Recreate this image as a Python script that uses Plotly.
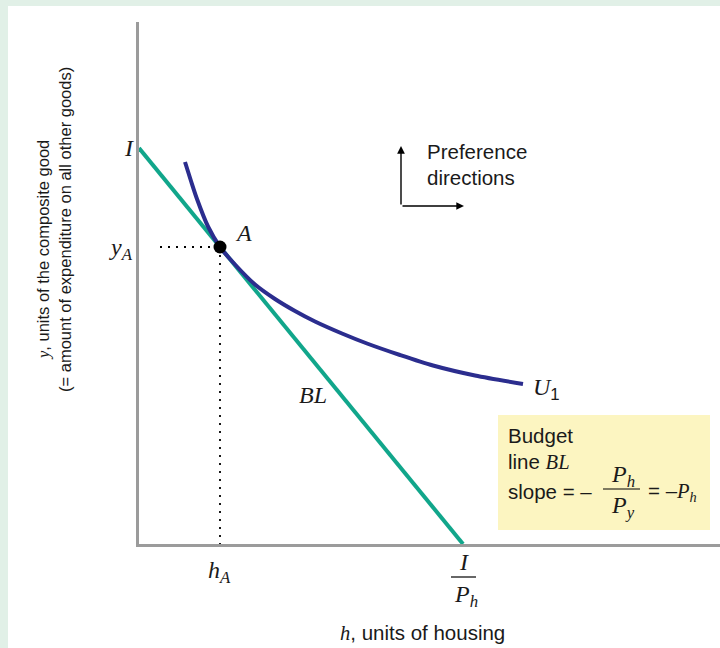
import plotly.graph_objects as go

# ---------------- data (chart units) ----------------
income_intercept_y = 39.6        # I  (budget line meets y axis)
income_intercept_x = 32.4        # I / P_h (budget line meets x axis)
point_A = (8.1, 29.7)            # optimal bundle (h_A, y_A)
curve_h = [4.6, 5.2, 5.8, 6.9, 8.1, 9.6, 11.6, 13.6, 15.6, 17.6, 20.3, 22.8, 26.1, 29.4, 33.6, 38.4]
curve_y = [38.2, 36.3, 34.5, 31.75, 29.7, 27.95, 25.95, 24.5, 23.3, 22.25, 21.05, 20.05, 18.9,
           17.85, 16.85, 16.0]
x_range = [0, 58.1]
y_range = [0, 52.2]

# ---------------- layout geometry (pixels) ----------------
W, H = 720, 648
L, R, T, B = 139, 0, 22, 104
PW, PH = W - L - R, H - T - B


def px(p):
    return (p - L) / PW


def py(p):
    return (H - B - p) / PH


TEAL = "#11a68b"
NAVY = "#2b2d8e"
GREEN_BG = "#e1f0e7"
YELLOW = "#fcf5c1"
SANS = "Liberation Sans, Arial, sans-serif"
SERIF = "Liberation Serif, Times New Roman, serif"

fig = go.Figure()

# dotted guides to A
fig.add_trace(go.Scatter(x=[2.1, point_A[0]], y=[point_A[1], point_A[1]], mode="lines",
                         line=dict(color="black", width=1.8, dash="2px,6px"), hoverinfo="skip"))
fig.add_trace(go.Scatter(x=[point_A[0], point_A[0]], y=[point_A[1], 0], mode="lines",
                         line=dict(color="black", width=1.8, dash="2px,6px"), hoverinfo="skip"))
# budget line
fig.add_trace(go.Scatter(x=[0, income_intercept_x], y=[income_intercept_y, 0], mode="lines",
                         line=dict(color=TEAL, width=4), hoverinfo="skip"))
# indifference curve
fig.add_trace(go.Scatter(x=curve_h, y=curve_y, mode="lines",
                         line=dict(color=NAVY, width=4, shape="spline", smoothing=0.8),
                         hoverinfo="skip"))
# point A
fig.add_trace(go.Scatter(x=[point_A[0]], y=[point_A[1]], mode="markers",
                         marker=dict(color="black", size=13), hoverinfo="skip"))

shapes = [
    # white panel
    dict(type="rect", xref="paper", yref="paper", x0=px(8), x1=px(W + 5), y0=py(H + 5), y1=py(6),
         fillcolor="white", line=dict(width=0), layer="below"),
    # yellow box
    dict(type="rect", xref="paper", yref="paper", x0=px(498), x1=px(710), y0=py(530), y1=py(415),
         fillcolor=YELLOW, line=dict(width=0), layer="below"),
    # fraction bar I/P_h
    dict(type="line", xref="paper", yref="paper", x0=px(451), x1=px(476), y0=py(577), y1=py(577),
         line=dict(color="black", width=1.2)),
    # fraction bar P_h/P_y
    dict(type="line", xref="paper", yref="paper", x0=px(603), x1=px(640), y0=py(489), y1=py(489),
         line=dict(color="black", width=1.2)),
]


def ann(text, x, y, size, family=SANS, xanchor="center", yanchor="middle", angle=0):
    return dict(text=text, xref="paper", yref="paper", x=px(x), y=py(y), showarrow=False,
                font=dict(size=size, family=family, color="#1a1a1a"), xanchor=xanchor,
                yanchor=yanchor, textangle=angle)


SS = 20.5   # sans text size
MS = 24     # serif math size
annotations = [
    ann("<i>I</i>", 136, 148, MS, SERIF, xanchor="right"),
    ann("<i>y</i><sub><i>A</i></sub>", 135, 249, MS, SERIF, xanchor="right"),
    ann("<i>h</i><sub><i>A</i></sub>", 219, 572, MS, SERIF),
    ann("<i>I</i>", 464, 562, MS, SERIF),
    ann("<i>P</i><sub><i>h</i></sub>", 466, 596, MS, SERIF),
    ann("<i>A</i>", 243, 233, MS, SERIF),
    ann("<i>BL</i>", 313, 395, MS, SERIF),
    ann("<i>U</i><sub><span style='font-family:Liberation Sans'>1</span></sub>", 531, 389, MS,
        SERIF, xanchor="left"),
    ann("Preference", 425, 151, SS, xanchor="left"),
    ann("directions", 425, 178, SS, xanchor="left"),
    ann("Budget", 506, 435, SS, xanchor="left"),
    ann("line <span style='font-family:Liberation Serif'><i>BL</i></span>", 506, 461, SS,
        xanchor="left"),
    ann("slope = \u2013", 506, 491, SS, xanchor="left"),
    ann("<i>P</i><sub><i>h</i></sub>", 623, 476, MS, SERIF),
    ann("<i>P</i><sub><i>y</i></sub>", 623, 507, MS, SERIF),
    ann("= \u2013<span style='font-family:Liberation Serif'><i>P</i><sub><i>h</i></sub></span>",
        646, 492, SS, xanchor="left"),
    ann("<span style='font-family:Liberation Serif'><i>h</i></span>, units of housing", 422, 632,
        SS),
    ann("<span style='font-family:Liberation Serif'><i>y</i></span>, units of the composite good",
        43, 250, 16.5, angle=-90),
    ann("(= amount of expenditure on all other goods)", 65, 230, 16.5, angle=-90),
]

# preference direction arrows (tail at pixel 401,206)
for (hx, hy) in [(401, 146), (464, 206)]:
    annotations.append(dict(x=px(hx), y=py(hy), xref="paper", yref="paper",
                            ax=401 - hx, ay=206 - hy, axref="pixel", ayref="pixel",
                            text="", showarrow=True, arrowhead=2, arrowsize=1.1,
                            arrowwidth=1.4, arrowcolor="black", standoff=0))

fig.update_layout(
    width=W, height=H,
    margin=dict(l=L, r=R, t=T, b=B, pad=0),
    paper_bgcolor=GREEN_BG,
    plot_bgcolor="rgba(0,0,0,0)",
    showlegend=False,
    shapes=shapes,
    annotations=annotations,
    xaxis=dict(range=x_range, showgrid=False, zeroline=False, showticklabels=False,
               ticks="", showline=True, linecolor="#9b9b9b", linewidth=2.5, fixedrange=True),
    yaxis=dict(range=y_range, showgrid=False, zeroline=False, showticklabels=False,
               ticks="", showline=True, linecolor="#9b9b9b", linewidth=2.5, fixedrange=True),
)

fig.write_html("out.html", config={"displayModeBar": False},
               post_script="document.body.style.margin='0';document.body.style.padding='0';")
